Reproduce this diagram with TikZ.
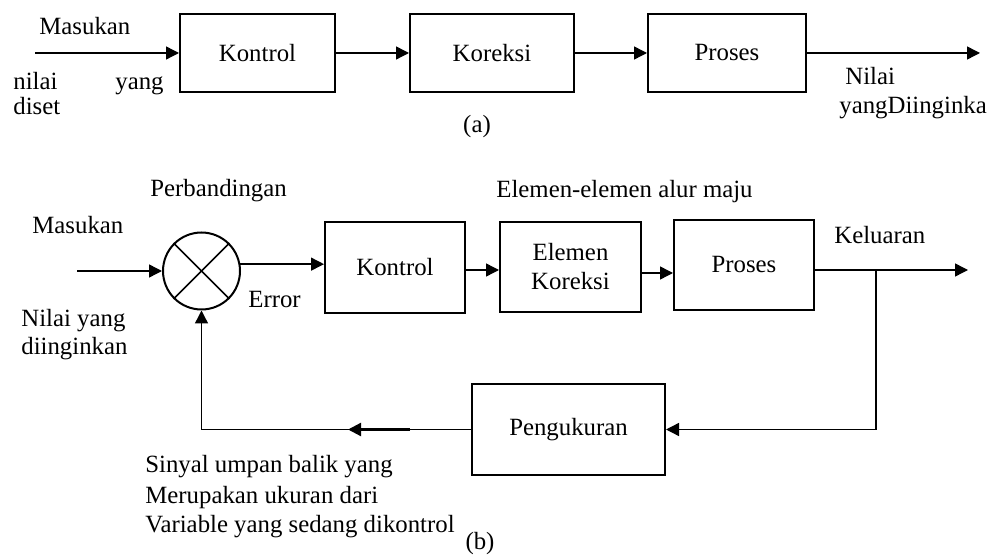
\documentclass[tikz,border=0pt]{standalone}
\usepackage{fontspec}
\setmainfont{Liberation Serif}
\usetikzlibrary{arrows.meta}
\begin{document}
\begin{tikzpicture}[x=0.5pt,y=-0.5pt,
  font=\fontsize{12.4}{14.5}\selectfont,
  blk/.style={draw,line width=1pt,inner sep=0pt,align=center},
  conn/.style={line width=0.7pt,-{Triangle[length=6.5pt,width=6.5pt]}},
  plain/.style={line width=0.7pt},
  lbl/.style={inner sep=0pt,anchor=base west}]
\useasboundingbox (0,0) rectangle (990,555);

% ---------- (a) ----------
\node[blk,minimum width=77.5pt,minimum height=39pt] (kA) at (257.5,53) {Kontrol};
\node[blk,minimum width=82pt,minimum height=39pt] (kor) at (492,53) {Koreksi};
\node[blk,minimum width=79pt,minimum height=39pt] (prA) at (727,53) {Proses};
\coordinate (inA) at (35,53);
\coordinate (outA) at (980,53);
\draw[conn] (inA) -- (kA.west);
\draw[conn] (kA.east) -- (kor.west);
\draw[conn] (kor.east) -- (prA.west);
\draw[conn] (prA.east) -- (outA);

\node[lbl] (tA1) at (39,35) {Masukan};
\node[lbl] (tA2) at (13,90) {nilai};
\node[lbl] (tA3) at (115,90) {yang};
\node[lbl] (tA4) at (13,115) {diset};
\node[lbl] (tA5) at (845,85) {Nilai};
\node[lbl] (tA6) at (839,114) {yangDiinginka};
\node[inner sep=0pt,anchor=base] (capA) at (477,133) {(a)};

% ---------- (b) ----------
\node[draw,circle,line width=1pt,inner sep=0pt,minimum size=38.5pt] (cmp) at (201.5,271) {};
\draw[line width=0.8pt] (cmp.north west) -- (cmp.south east);
\draw[line width=0.8pt] (cmp.north east) -- (cmp.south west);

\node[blk,minimum width=70pt,minimum height=45.5pt] (kB) at (395,267.5) {Kontrol};
\node[blk,minimum width=70.5pt,minimum height=45pt] (ek) at (570.5,267) {Elemen\\Koreksi};
\node[blk,minimum width=70pt,minimum height=45pt] (pB) at (744,265) {Proses};
\node[blk,minimum width=96.5pt,minimum height=45.5pt] (peng) at (568.5,429.5) {Pengukuran};

\coordinate (inB) at (77,271);
\coordinate (br) at (876,270);
\coordinate (outB) at (968,270);
\coordinate (fbmid) at (348,429.5);
\coordinate (fbthick) at (410,429.5);

\draw[conn] (inB) -- (cmp.west);
\draw[conn] (cmp.10) -- (cmp.10 -| kB.west);
\draw[conn] ([yshift=-1.25pt]kB.east) -- ([yshift=-1.25pt]kB.east -| ek.west);
\draw[conn] ([yshift=-3pt]ek.east) -- ([yshift=-3pt]ek.east -| pB.west);
\draw[conn] ([yshift=-2.5pt]pB.east) -- (outB);
\draw[conn] (br) |- (peng.east);
\draw[conn] (peng.west) -| (cmp.south);
\draw[line width=1.1pt,-{Triangle[length=6.5pt,width=6.5pt]}] (fbthick) -- (fbmid);

\node[lbl] (tB1) at (150,197) {Perbandingan};
\node[lbl] (tB2) at (496,198) {Elemen-elemen alur maju};
\node[lbl] (tB3) at (32,234) {Masukan};
\node[lbl] (tB4) at (834,244) {Keluaran};
\node[lbl] (tB5) at (248,308) {Error};
\node[lbl] (tB6) at (21,327) {Nilai yang};
\node[lbl] (tB7) at (21,355) {diinginkan};
\node[lbl] (tB8) at (145,473) {Sinyal umpan balik yang};
\node[lbl] (tB9) at (145,503) {Merupakan ukuran dari};
\node[lbl] (tB10) at (145,532) {Variable yang sedang dikontrol};
\node[inner sep=0pt,anchor=base] (capB) at (480,549) {(b)};
\end{tikzpicture}
\end{document}
